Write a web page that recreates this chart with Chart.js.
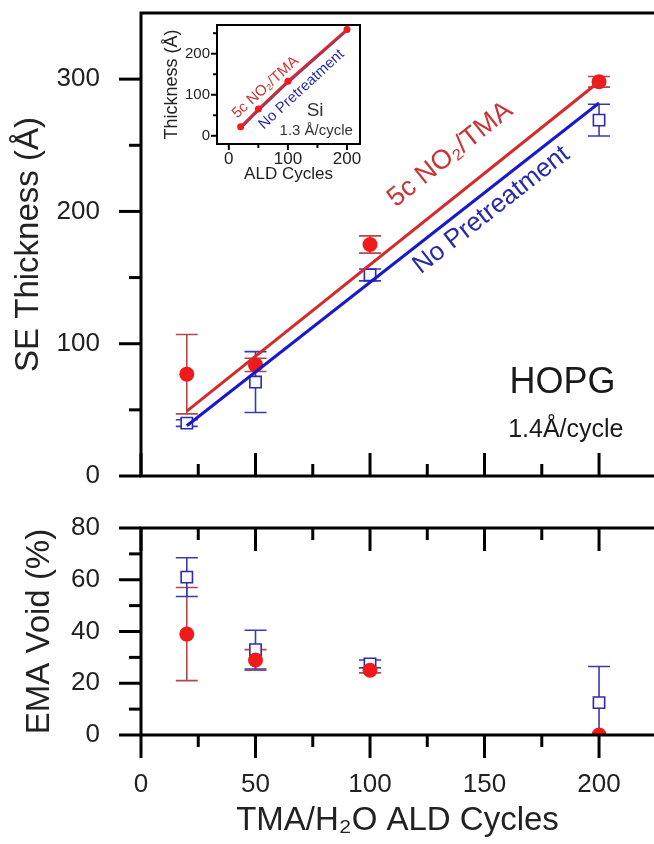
<!DOCTYPE html>
<html>
<head>
<meta charset="utf-8">
<script src="https://cdn.jsdelivr.net/npm/chart.js@4.4.1/dist/chart.umd.min.js"></script>
<style>
  html, body { margin: 0; padding: 0; background: #fff; }
  #wrap { position: relative; width: 654px; height: 844px; overflow: hidden; }
  canvas { position: absolute; }
</style>
</head>
<body>
<div id="wrap">
  <canvas id="thick" style="left:0;top:0" width="654" height="500"></canvas>
  <canvas id="void" style="left:0;top:500px" width="654" height="344"></canvas>
  <canvas id="inset" style="left:150px;top:15px" width="220" height="180"></canvas>
</div>
<script>
// ALD cycles
const cycles = [20, 50, 100, 200];

// SE thickness on HOPG (Å)
const thickNO2 = [77, 84, 175, 298];
const thickNO2Err = [30, 5, 6.5, 4];
const thickNone = [40, 71, 152, 269];
const thickNoneErr = [2.5, 23, 4.5, 12];

// linear fits
const fitCycles = [20, 200];
const fitNO2 = [49, 298];
const fitNone = [38, 282];

// EMA void (%)
const voidNO2 = [39, 29, 25, 0];
const voidNO2Err = [18, 4, 1, 0];
const voidNone = [61, 33, 27.5, 12.5];
const voidNoneErr = [7.5, 7.5, 1.5, 14];

// inset: thickness on Si (Å)
const siNO2 = [22, 65, 133, 259];
const siNone = [19, 62, 130, 257];

// tick marks
const cycleTicks = [0, 50, 100, 150, 200];
const cycleMinor = [25, 75, 125, 175, 225];
const thickTicks = [0, 100, 200, 300];
const thickMinor = [50, 150, 250];
const voidTicks = [0, 20, 40, 60, 80];
const voidMinor = [10, 30, 50, 70];
const insetXTicks = [0, 100, 200];
const insetXMinor = [50, 150];
const insetYTicks = [0, 100, 200];
const insetYMinor = [50, 150, 250];

const FONT = '"Liberation Sans", Arial, Helvetica, sans-serif';
const INK = '#222';
const RED = '#f01a1a', RED_BAR = '#b44848', RED_LINE = '#d62a2a', RED_TXT = '#c83636';
const BLUE = '#2b2bb0', BLUE_BAR = '#3a3ab4', BLUE_LINE = '#1818cc', BLUE_TXT = '#2a2aa8';

const pts = (xs, ys) => xs.map((x, i) => ({x, y: ys[i]}));
const asTicks = vals => s => { s.ticks = vals.map(value => ({value})); };
// fixed axis sizes, and no extra room for the end labels
const fixW = w => s => { s.width = w; s.paddingTop = 0; s.paddingBottom = 0; };
const fixH = h => s => { s.height = h; s.paddingLeft = 0; s.paddingRight = 0; };

const framePlugin = {
  id: 'frame',
  afterDatasetsDraw(chart, args, o) {
    const {ctx, chartArea: a, scales} = chart;
    ctx.save();
    ctx.strokeStyle = o.color;
    ctx.lineWidth = o.width;
    ctx.lineCap = 'square';
    ctx.beginPath();
    if (o.sides.includes('left')) { ctx.moveTo(a.left, a.top); ctx.lineTo(a.left, a.bottom); }
    if (o.sides.includes('right')) { ctx.moveTo(a.right, a.top); ctx.lineTo(a.right, a.bottom); }
    if (o.sides.includes('top')) { ctx.moveTo(a.left, a.top); ctx.lineTo(a.right + o.extend, a.top); }
    if (o.sides.includes('bottom')) { ctx.moveTo(a.left, a.bottom); ctx.lineTo(a.right + o.extend, a.bottom); }
    ctx.stroke();
    ctx.lineCap = 'butt';
    o.marks.forEach(m => {
      const s = scales[m.scale];
      const edge = a[m.side];
      const out = (m.side === 'left' || m.side === 'top') ? -1 : 1;
      const dir = m.inward ? -out : out;
      const tick = (v, len) => {
        const p = s.getPixelForValue(v);
        ctx.beginPath();
        if (m.side === 'left' || m.side === 'right') { ctx.moveTo(edge, p); ctx.lineTo(edge + dir * len, p); }
        else { ctx.moveTo(p, edge); ctx.lineTo(p, edge + dir * len); }
        ctx.stroke();
      };
      m.major.forEach(v => tick(v, m.majorLen));
      m.minor.forEach(v => tick(v, m.minorLen));
    });
    ctx.restore();
  }
};

const errorBars = {
  id: 'errorBars',
  beforeDatasetsDraw(chart) {
    const {ctx, chartArea: a, scales: {x, y}} = chart;
    ctx.save();
    ctx.beginPath();
    ctx.rect(a.left, a.top, a.right - a.left, a.bottom - a.top);
    ctx.clip();
    chart.data.datasets.forEach(ds => {
      if (!ds.errors) return;
      ctx.strokeStyle = ds.errorColor;
      ctx.lineWidth = 1.6;
      ds.data.forEach((p, i) => {
        const e = ds.errors[i];
        if (!e) return;
        const px = x.getPixelForValue(p.x);
        const y1 = y.getPixelForValue(p.y - e), y2 = y.getPixelForValue(p.y + e);
        const c = ds.capWidth / 2;
        ctx.beginPath();
        ctx.moveTo(px, y1); ctx.lineTo(px, y2);
        ctx.moveTo(px - c, y1); ctx.lineTo(px + c, y1);
        ctx.moveTo(px - c, y2); ctx.lineTo(px + c, y2);
        ctx.stroke();
      });
    });
    ctx.restore();
  }
};

const notes = {
  id: 'notes',
  afterDraw(chart, args, o) {
    const {ctx, scales: {x, y}} = chart;
    o.items.forEach(n => {
      ctx.save();
      ctx.translate(x.getPixelForValue(n.x), y.getPixelForValue(n.y));
      if (n.along) {
        const [x1, y1, x2, y2] = n.along;
        ctx.rotate(Math.atan2(y.getPixelForValue(y2) - y.getPixelForValue(y1),
                              x.getPixelForValue(x2) - x.getPixelForValue(x1)));
      }
      ctx.font = n.font;
      ctx.fillStyle = n.color;
      ctx.textAlign = 'center';
      ctx.textBaseline = 'middle';
      ctx.fillText(n.text, 0, 0);
      ctx.restore();
    });
  }
};

const base = {
  responsive: false,
  maintainAspectRatio: false,
  animation: false,
  events: [],
};
const noLegend = { legend: { display: false }, tooltip: { enabled: false } };

const redDots = (data, err) => ({
  data, errors: err, errorColor: RED_BAR, capWidth: 22, clip: 0,
  pointStyle: 'circle', pointRadius: 7.5, pointBackgroundColor: RED, pointBorderColor: RED, pointBorderWidth: 0
});
const blueSquares = (data, err) => ({
  data, errors: err, errorColor: BLUE_BAR, capWidth: 22, clip: 0,
  pointStyle: 'rect', pointRadius: 8, pointBackgroundColor: '#fbfbff', pointBorderColor: BLUE, pointBorderWidth: 1.6
});

// ---------- top: SE thickness ----------
new Chart(document.getElementById('thick'), {
  type: 'scatter',
  data: {
    datasets: [
      { data: pts(fitCycles, fitNO2), showLine: true, borderColor: RED_LINE, borderWidth: 3, pointRadius: 0 },
      { data: pts(fitCycles, fitNone), showLine: true, borderColor: BLUE_LINE, borderWidth: 3, pointRadius: 0 },
      redDots(pts(cycles, thickNO2), thickNO2Err),
      blueSquares(pts(cycles, thickNone), thickNoneErr),
    ]
  },
  options: {
    ...base,
    layout: { padding: { top: 13, right: 0, left: 0, bottom: 0 }, autoPadding: false },
    scales: {
      x: {
        min: 0, max: 224,
        grid: { display: false, drawTicks: false }, border: { display: false },
        ticks: { display: false },
        afterFit: fixH(24)
      },
      y: {
        min: 0, max: 350,
        afterBuildTicks: asTicks(thickTicks),
        grid: { display: false, drawTicks: false }, border: { display: false },
        ticks: { padding: 41, color: INK, font: { family: FONT, size: 26 } },
        title: { display: true, text: 'SE Thickness (Å)', color: INK, padding: { top: 9 }, font: { family: FONT, size: 33 } },
        afterFit: fixW(141)
      }
    },
    plugins: {
      ...noLegend,
      frame: {
        color: '#000', width: 3, extend: 10, sides: ['left', 'top', 'bottom'],
        marks: [
          { scale: 'y', side: 'left', inward: false, major: thickTicks, minor: thickMinor, majorLen: 22, minorLen: 12 },
          { scale: 'x', side: 'bottom', inward: true, major: cycleTicks, minor: cycleMinor, majorLen: 23, minorLen: 12 }
        ]
      },
      notes: {
        items: [
          { text: 'HOPG', x: 184, y: 70, font: '36px ' + FONT, color: '#1a1a1a' },
          { text: '1.4Å/cycle', x: 185.5, y: 35, font: '25px ' + FONT, color: '#1a1a1a' },
          { text: '5c NO₂/TMA', x: 135, y: 243, font: '27px ' + FONT, color: RED_TXT,
            along: [fitCycles[0], fitNO2[0], fitCycles[1], fitNO2[1]] },
          { text: 'No Pretreatment', x: 153, y: 201, font: '26px ' + FONT, color: BLUE_TXT,
            along: [fitCycles[0], fitNone[0], fitCycles[1], fitNone[1]] }
        ]
      }
    }
  },
  plugins: [framePlugin, errorBars, notes]
});

// ---------- bottom: EMA void ----------
new Chart(document.getElementById('void'), {
  type: 'scatter',
  data: {
    datasets: [
      redDots(pts(cycles, voidNO2), voidNO2Err),
      blueSquares(pts(cycles, voidNone), voidNoneErr),
    ]
  },
  options: {
    ...base,
    layout: { padding: { top: 28, right: 0, left: 0, bottom: 0 }, autoPadding: false },
    scales: {
      x: {
        min: 0, max: 224,
        afterBuildTicks: asTicks(cycleTicks),
        grid: { display: false, drawTicks: false }, border: { display: false },
        ticks: { padding: 34, color: INK, font: { family: FONT, size: 26 }, maxRotation: 0 },
        title: { display: true, text: 'TMA/H₂O ALD Cycles', color: INK, padding: { bottom: 3 }, font: { family: FONT, size: 33 } },
        afterFit: fixH(109)
      },
      y: {
        min: 0, max: 80,
        afterBuildTicks: asTicks(voidTicks),
        grid: { display: false, drawTicks: false }, border: { display: false },
        ticks: { padding: 41, color: INK, font: { family: FONT, size: 26 } },
        title: { display: true, text: 'EMA Void (%)', color: INK, padding: { top: 20 }, font: { family: FONT, size: 33 } },
        afterFit: fixW(141)
      }
    },
    plugins: {
      ...noLegend,
      frame: {
        color: '#000', width: 3, extend: 10, sides: ['left', 'top', 'bottom'],
        marks: [
          { scale: 'y', side: 'left', inward: false, major: voidTicks, minor: voidMinor, majorLen: 22, minorLen: 12 },
          { scale: 'x', side: 'bottom', inward: false, major: cycleTicks, minor: cycleMinor, majorLen: 23, minorLen: 12 },
          { scale: 'x', side: 'top', inward: true, major: cycleTicks, minor: cycleMinor, majorLen: 23, minorLen: 12 }
        ]
      },
      notes: { items: [] }
    }
  },
  plugins: [framePlugin, errorBars, notes]
});

// ---------- inset: Si ----------
new Chart(document.getElementById('inset'), {
  type: 'scatter',
  data: {
    datasets: [
      { data: pts(cycles, siNO2), showLine: true, borderColor: RED_LINE, borderWidth: 2.5,
        pointRadius: 3.5, pointBackgroundColor: RED, pointBorderColor: RED, pointBorderWidth: 0 },
      { data: pts(cycles, siNone), showLine: true, borderColor: '#4a3ac8', borderWidth: 2.5, pointRadius: 0 },
    ]
  },
  options: {
    ...base,
    layout: { padding: { top: 10, right: 10, left: 0, bottom: 0 }, autoPadding: false },
    scales: {
      x: {
        min: -20, max: 222,
        afterBuildTicks: asTicks(insetXTicks),
        grid: { display: false, drawTicks: false }, border: { display: false },
        ticks: { padding: 5, color: INK, font: { family: FONT, size: 17 }, maxRotation: 0 },
        title: { display: true, text: 'ALD Cycles', color: INK, padding: { bottom: 10 }, font: { family: FONT, size: 17 } },
        afterFit: fixH(51)
      },
      y: {
        min: -20, max: 270,
        afterBuildTicks: asTicks(insetYTicks),
        grid: { display: false, drawTicks: false }, border: { display: false },
        ticks: { padding: 7, color: INK, font: { family: FONT, size: 15 } },
        title: { display: true, text: 'Thickness (Å)', color: INK, padding: { top: 11 }, font: { family: FONT, size: 18 } },
        afterFit: fixW(67)
      }
    },
    plugins: {
      ...noLegend,
      frame: {
        color: '#000', width: 2, extend: 0, sides: ['left', 'top', 'bottom', 'right'],
        marks: [
          { scale: 'y', side: 'left', inward: false, major: insetYTicks, minor: insetYMinor, majorLen: 6, minorLen: 4 },
          { scale: 'x', side: 'bottom', inward: false, major: insetXTicks, minor: insetXMinor, majorLen: 6, minorLen: 4 }
        ]
      },
      notes: {
        items: [
          { text: '5c NO₂/TMA', x: 62, y: 118, font: '15px ' + FONT, color: RED_TXT,
            along: [cycles[0], siNO2[0], cycles[3], siNO2[3]] },
          { text: 'No Pretreatment', x: 123, y: 113, font: '15px ' + FONT, color: BLUE_TXT,
            along: [cycles[0], siNone[0], cycles[3], siNone[3]] },
          { text: 'Si', x: 146, y: 62, font: '19px ' + FONT, color: '#333' },
          { text: '1.3 Å/cycle', x: 148, y: 11, font: '15px ' + FONT, color: '#333' }
        ]
      }
    }
  },
  plugins: [framePlugin, errorBars, notes]
});
</script>
</body>
</html>
